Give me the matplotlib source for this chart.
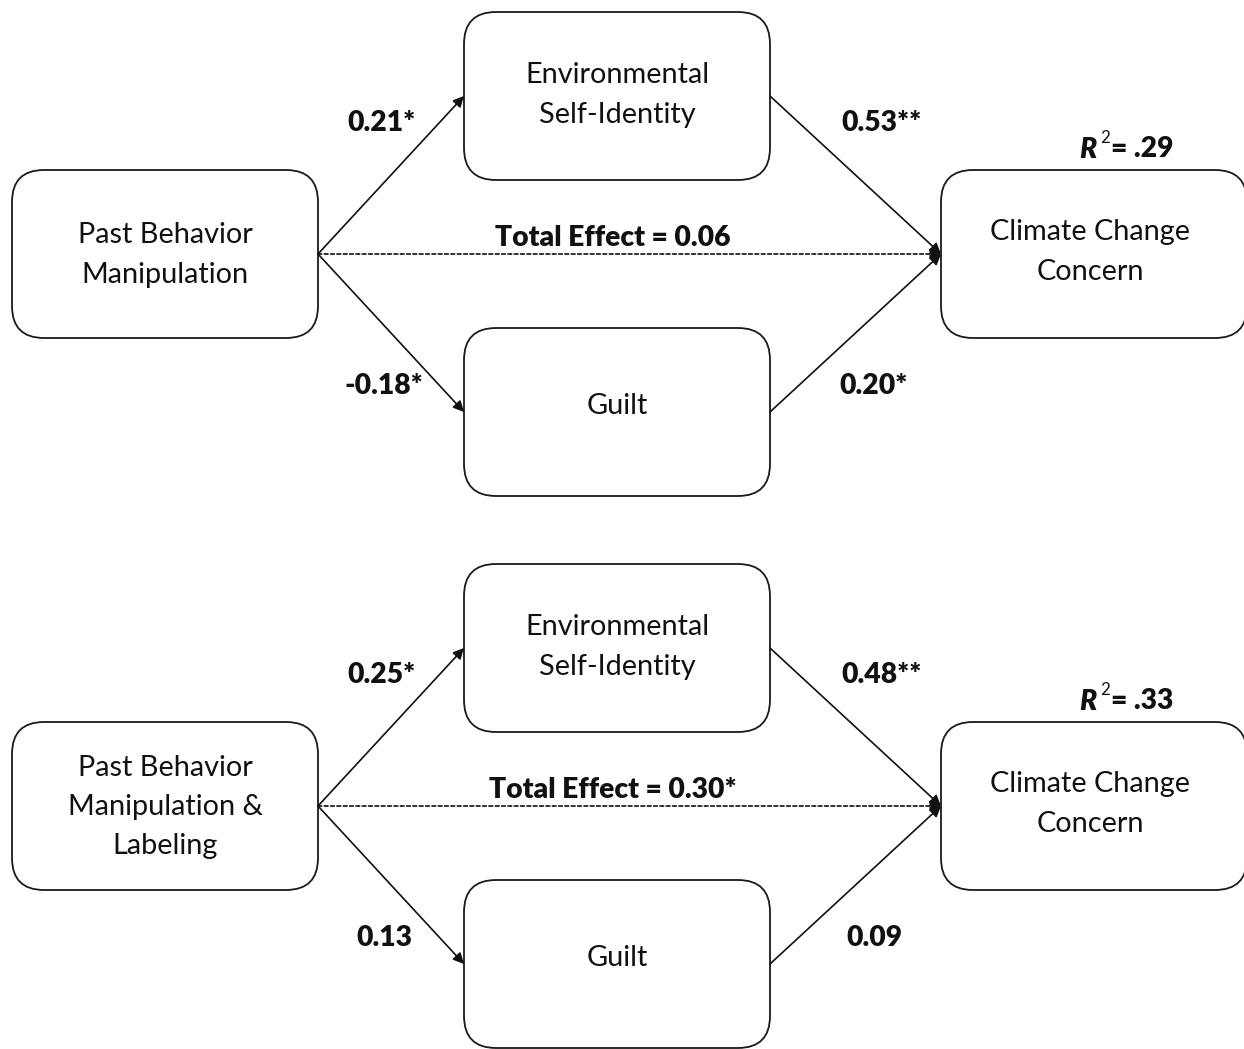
import matplotlib
matplotlib.use("Agg")
import matplotlib.pyplot as plt
from matplotlib.patches import FancyBboxPatch

plt.rcParams['font.family'] = ['Lato', 'DejaVu Sans']

# ---- data ----
panels = ["Past Behavior Manipulation", "Past Behavior Manipulation & Labeling"]
predictor_labels = ["Past Behavior\nManipulation", "Past Behavior\nManipulation &\nLabeling"]
mediator_labels = ["Environmental\nSelf-Identity", "Guilt"]
outcome_label = "Climate Change\nConcern"
a_paths_esi = ["0.21*", "0.25*"]
b_paths_esi = ["0.53**", "0.48**"]
a_paths_guilt = ["-0.18*", "0.13"]
b_paths_guilt = ["0.20*", "0.09"]
total_effects = ["Total Effect = 0.06", "Total Effect = 0.30*"]
r_squared = [".29", ".33"]

W, H = 1244, 1049
fig = plt.figure(figsize=(W / 100, H / 100), dpi=100)
ax = fig.add_axes([0, 0, 1, 1])
ax.set_xlim(0, W)
ax.set_ylim(H, 0)
ax.axis('off')

FS = 20.8
FSB = 20.3
BW, BH = 306, 168


def box(x0, y0, text, yoff=0, xoff=0):
    p = FancyBboxPatch((x0, y0), BW, BH, boxstyle="round,pad=0,rounding_size=32",
                       fc='white', ec='#1a1a1a', lw=1.3, clip_on=False)
    ax.add_patch(p)
    ax.text(x0 + BW / 2 + xoff, y0 + BH / 2 + yoff, text, ha='center', va='center',
            fontsize=FS, linespacing=1.62, color='#111111')


def arrow(p0, p1, dotted=False):
    ax.annotate("", xy=p1, xytext=p0,
                arrowprops=dict(arrowstyle='-|>', mutation_scale=16, lw=1.2,
                                color='#111111', shrinkA=0, shrinkB=0,
                                linestyle=(0, (2.2, 1.6)) if dotted else '-'))


offsets = [0, 552]
for i, dy in enumerate(offsets):
    lx, ly = 12, 170 + dy
    ex, ey = 464, 12 + dy
    gx, gy = 464, 328 + dy
    cx, cy = 941, 170 + dy
    box(lx, ly, predictor_labels[i], yoff=1)
    box(ex, ey, mediator_labels[0], yoff=-1)
    box(gx, gy, mediator_labels[1], yoff=-6)
    box(cx, cy, outcome_label, yoff=-2, xoff=-4)

    src = (lx + BW, ly + BH / 2)
    dst = (cx, cy + BH / 2)
    arrow(src, (ex, ey + BH / 2))
    arrow(src, (gx, gy + BH / 2))
    arrow((ex + BW, ey + BH / 2), dst)
    arrow((gx + BW, gy + BH / 2), dst)
    arrow(src, dst, dotted=True)

    kw = dict(ha='center', va='center', fontsize=FSB, fontweight='heavy', color='#111111')
    ax.text(381, 123 + dy, a_paths_esi[i], **kw)
    ax.text(882, 123 + dy, b_paths_esi[i], **kw)
    ax.text(384, 386 + dy, a_paths_guilt[i], **kw)
    ax.text(874, 386 + dy, b_paths_guilt[i], **kw)
    ax.text(613, 238 + dy, total_effects[i], **kw)

    # R^2 label
    ax.text(1097, 150 + dy, "R", ha='right', va='center', fontsize=FSB,
            fontweight='heavy', fontstyle='italic', color='#111111')
    ax.text(1100, 138 + dy, "2", ha='left', va='center', fontsize=FSB * 0.6,
            color='#111111')
    ax.text(1111, 149 + dy, "= " + r_squared[i], ha='left', va='center', fontsize=FSB,
            fontweight='heavy', color='#111111')

fig.savefig("out.png", dpi=100, facecolor='white')
